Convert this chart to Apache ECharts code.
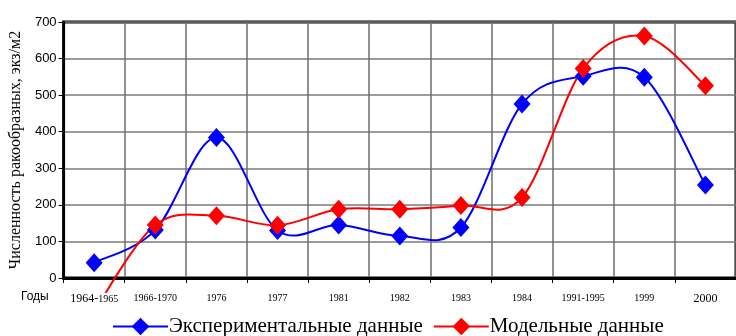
<!DOCTYPE html>
<html>
<head>
<meta charset="utf-8">
<script src="https://cdn.jsdelivr.net/npm/echarts@6/dist/echarts.min.js"></script>
<style>
  html, body { margin: 0; padding: 0; background: #fff; }
  #chart { width: 736px; height: 336px; }
</style>
</head>
<body>
<div id="chart"></div>
<script>
// Periods of observation
const periods = ['1964-1965', '1966-1970', '1976', '1977', '1981', '1982', '1983', '1984', '1991-1995', '1999', '2000'];
// Measured abundance, ind./m2
const experimental = [42, 131, 384, 130, 145, 115, 138, 476, 552, 549, 254];
// Model output, ind./m2 (first period falls below zero)
const model = [-90, 145, 170, 144, 188, 188, 198, 220, 573, 662, 526];
// Value axis ticks
const yMin = 0, yMax = 700, yStep = 100;

const serif = 'Liberation Serif, Times New Roman, serif';
const sans = 'Liberation Sans, Arial, sans-serif';

// Smoothed curve drawn as cubic Bezier segments (Catmull-Rom style, tension 1/6),
// one segment per data item, positioned through the grid's own coordinate system.
function curveSeries(name, values, color) {
  const n = values.length;
  return {
    name: name, type: 'custom', xAxisIndex: 0, yAxisIndex: 0,
    clip: false, silent: true,
    data: values.slice(0, n - 1).map(function (v, i) { return [i, v]; }),
    renderItem: function (params, api) {
      const i = params.dataIndex;
      const pt = function (k) {
        k = Math.max(0, Math.min(n - 1, k));
        return api.coord([k, values[k]]);
      };
      const a = pt(i - 1), b = pt(i), c = pt(i + 1), d = pt(i + 2);
      return {
        type: 'bezierCurve',
        shape: {
          x1: b[0], y1: b[1], x2: c[0], y2: c[1],
          cpx1: b[0] + (c[0] - a[0]) / 6, cpy1: b[1] + (c[1] - a[1]) / 6,
          cpx2: c[0] - (d[0] - b[0]) / 6, cpy2: c[1] - (d[1] - b[1]) / 6
        },
        style: { stroke: color, lineWidth: 2, fill: null }
      };
    }
  };
}

function markerSeries(name, values, color) {
  return {
    name: name, type: 'line', xAxisIndex: 0,
    data: values.map(function (v) { return v < 0 ? { value: v, symbol: 'none' } : v; }),
    symbol: 'diamond', symbolSize: [17, 19], showAllSymbol: true,
    lineStyle: { color: color, width: 2, opacity: 0 },
    itemStyle: { color: color }
  };
}

const chart = echarts.init(document.getElementById('chart'), null, { renderer: 'canvas' });

chart.setOption({
  animation: false,
  backgroundColor: '#fff',
  grid: {
    left: 63, top: 22, width: 682, height: 256,
    show: true, borderColor: '#000', borderWidth: 3, backgroundColor: 'transparent'
  },
  legend: {
    left: 107, top: 311,
    itemWidth: 55, itemHeight: 22, itemGap: 10,
    lineStyle: { opacity: 1, width: 2 },
    textStyle: { fontFamily: serif, fontSize: 21, color: '#000', padding: [0, 0, 0, -4] },
    data: ['Экспериментальные данные', 'Модельные данные']
  },
  xAxis: [
    {
      type: 'category', data: periods, boundaryGap: true,
      axisLine: { lineStyle: { color: '#000', width: 3 } },
      axisTick: { show: true, interval: 0, length: 5, lineStyle: { color: '#000' } },
      axisLabel: { show: false },
      splitLine: { show: true, interval: 0, lineStyle: { color: '#6e6e6e', width: 1.5 } }
    },
    {
      type: 'category', data: periods, boundaryGap: true, position: 'bottom',
      z: 5,
      axisLine: { show: false }, axisTick: { show: false }, splitLine: { show: false },
      axisLabel: {
        interval: 0, margin: 15, color: '#000',
        fontFamily: serif, fontSize: 10,
        backgroundColor: '#fff', padding: [0, 2, 9, 2],
        formatter: function (v) {
          if (v === '2000') return '{big|2000}';
          if (v === '1964-1965') return '{mid|1964-}1965';
          return v;
        },
        rich: {
          big: { fontFamily: serif, fontSize: 12, color: '#000' },
          mid: { fontFamily: serif, fontSize: 12, color: '#000' }
        }
      }
    }
  ],
  yAxis: {
    type: 'value', min: yMin, max: yMax, interval: yStep,
    name: 'Численность ракообразных, экз/м2',
    nameLocation: 'middle', nameGap: 34,
    nameTextStyle: { fontFamily: serif, fontSize: 16, color: '#000' },
    axisLine: { show: true, lineStyle: { color: '#000', width: 2 } },
    axisTick: { show: true, length: 5, lineStyle: { color: '#000' } },
    axisLabel: { fontFamily: sans, fontSize: 13, color: '#000', margin: 7 },
    splitLine: { show: true, lineStyle: { color: '#7a7a7a', width: 1.5 } }
  },
  graphic: [
    { type: 'text', left: 21, top: 291, style: { text: 'Годы', fontFamily: sans, fontSize: 12, fill: '#000' } }
  ],
  series: [
    curveSeries('Экспериментальные данные (кривая)', experimental, '#0000ff'),
    markerSeries('Экспериментальные данные', experimental, '#0000ff'),
    curveSeries('Модельные данные (кривая)', model, '#ff0000'),
    markerSeries('Модельные данные', model, '#ff0000')
  ]
});
</script>
</body>
</html>
